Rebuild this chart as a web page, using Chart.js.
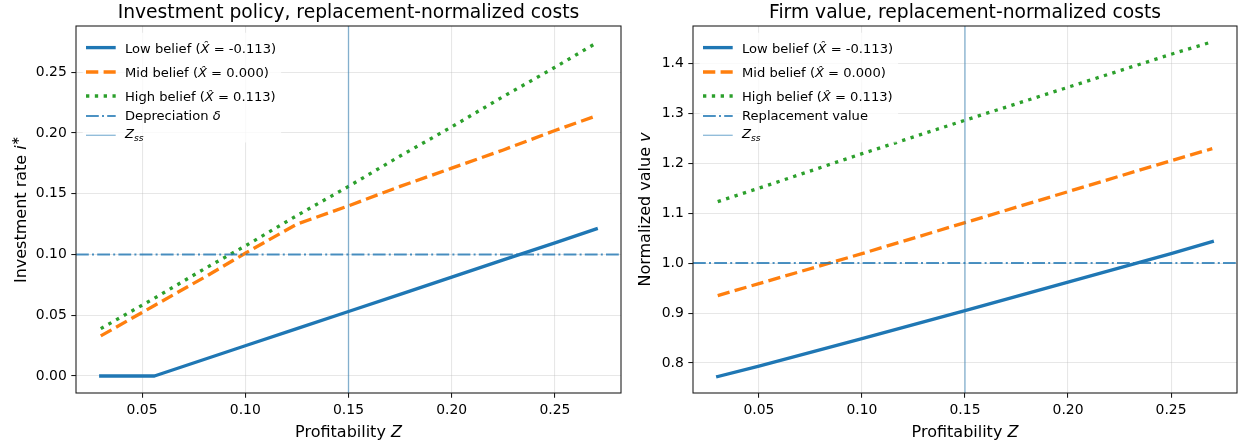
<!DOCTYPE html>
<html><head><meta charset="utf-8">
<script src="https://cdn.jsdelivr.net/npm/chart.js@4"></script>
<style>
html,body{margin:0;padding:0;background:#fff;width:1238px;height:444px;overflow:hidden}
.wrap{position:absolute;top:0;height:444px}
#wa{left:0;width:640px}
#wb{left:630px;width:608px}
canvas{display:block}
</style></head><body>
<div class="wrap" id="wa"><canvas id="ca" width="640" height="444"></canvas></div>
<div class="wrap" id="wb"><canvas id="cb" width="608" height="444"></canvas></div>
<script>
// ---------- data ----------
const Z_INVEST    = [0.030, 0.056, 0.080, 0.100, 0.125, 0.150, 0.175, 0.200, 0.225, 0.250, 0.270];
const INVEST_LOW  = [0.000, 0.000, 0.0136, 0.0249, 0.039, 0.0531, 0.0672, 0.0814, 0.0955, 0.1096, 0.121];
const INVEST_MID  = [0.033, 0.058, 0.081, 0.101, 0.125, 0.140, 0.156, 0.171, 0.186, 0.202, 0.214];
const INVEST_HIGH = [0.039, 0.064, 0.088, 0.107, 0.132, 0.156, 0.181, 0.205, 0.230, 0.254, 0.274];

const Z_VALUE     = [0.030, 0.050, 0.100, 0.150, 0.200, 0.250, 0.270];
const VALUE_LOW   = [0.773, 0.794, 0.849, 0.905, 0.962, 1.019, 1.043];
const VALUE_MID   = [0.935, 0.959, 1.019, 1.081, 1.143, 1.205, 1.229];
const VALUE_HIGH  = [1.123, 1.150, 1.219, 1.286, 1.352, 1.418, 1.443];

const BELIEF_LABELS = ['-0.113', '0.000', '0.113'];
const DEPRECIATION = 0.10;
const REPLACEMENT_VALUE = 1.0;
const Z_SS = 0.15;

const X_TICKS      = [0.05, 0.10, 0.15, 0.20, 0.25];
const INVEST_TICKS = [0.00, 0.05, 0.10, 0.15, 0.20, 0.25];
const VALUE_TICKS  = [0.8, 0.9, 1.0, 1.1, 1.2, 1.3, 1.4];

// ---------- styles ----------
const FONT = '"DejaVu Sans"';
Chart.defaults.font.family = FONT;
const SERIES_STYLE = [
  {name:'Low',  color:'#1f77b4', dash:[],           cap:'square'},
  {name:'Mid',  color:'#ff7f0e', dash:[12.3, 5.3],  cap:'butt'},
  {name:'High', color:'#2ca02c', dash:[3.33, 5.5],  cap:'butt'}
];
const LW = 3.33;
const HLINE_STYLE = {color:'rgba(31,119,180,0.8)', width:2, dash:[12.8,3.2,2,3.2], cap:'butt'};
const VLINE_STYLE = {color:'rgba(31,119,180,0.5)', width:1.33, dash:[], cap:'butt'};

function fontStr(p, size){ return (p.it ? 'italic ' : '') + (size*(p.sc||1)) + 'px ' + FONT; }
function richWidth(ctx, parts, size){
  let w = 0;
  for (const p of parts){ ctx.font = fontStr(p,size); w += ctx.measureText(p.t).width; }
  return w;
}
function drawRich(ctx, parts, x, y, size, align){
  const w = richWidth(ctx, parts, size);
  let cx = align === 'center' ? x - w/2 : x;
  ctx.textBaseline = 'alphabetic';
  ctx.textAlign = 'left';
  for (const p of parts){
    ctx.font = fontStr(p,size);
    ctx.fillText(p.t, cx, y + (p.dy||0)*size);
    cx += ctx.measureText(p.t).width;
  }
  return w;
}
function strokeLine(ctx, st, x0, y0, x1, y1){
  ctx.save();
  ctx.strokeStyle = st.color; ctx.lineWidth = st.width;
  ctx.setLineDash(st.dash || []); ctx.lineCap = st.cap || 'butt';
  ctx.beginPath(); ctx.moveTo(x0,y0); ctx.lineTo(x1,y1); ctx.stroke();
  ctx.restore();
}

const decorPlugin = {
  id:'decor',
  afterDatasetsDraw(chart, args, o){
    const ctx = chart.ctx, a = chart.chartArea;
    const xs = chart.scales.x, ys = chart.scales.y;
    ctx.save();
    ctx.beginPath(); ctx.rect(a.left, a.top, a.right-a.left, a.bottom-a.top); ctx.clip();
    const hy = ys.getPixelForValue(o.hValue);
    strokeLine(ctx, HLINE_STYLE, a.left, hy, a.right, hy);
    const vx = xs.getPixelForValue(o.vValue);
    strokeLine(ctx, VLINE_STYLE, vx, a.top, vx, a.bottom);
    ctx.restore();

    // frame
    ctx.save();
    ctx.strokeStyle = '#1a1a1a'; ctx.lineWidth = 1.07;
    ctx.strokeRect(a.left, a.top, a.right-a.left, a.bottom-a.top);
    ctx.restore();

    // legend
    const fs = 13.1;
    const entries = o.legend;
    const rows = [21.6, 46.0, 70.0, 90.0, 109.3];
    const base = [5.0, 5.0, 5.0, 3.6, 3.1];
    const textX = a.left + 49;
    let maxW = 0;
    for (const e of entries) maxW = Math.max(maxW, richWidth(ctx, e.parts, fs));
    const bx = a.left + 6.7, by = a.top + 6.7;
    const bw = textX + maxW + 5 - bx, bh = a.top + 116.5 - by;
    ctx.save();
    ctx.fillStyle = 'rgba(255,255,255,0.8)';
    ctx.beginPath();
    if (ctx.roundRect) ctx.roundRect(bx, by, bw, bh, 2.7); else ctx.rect(bx,by,bw,bh);
    ctx.fill();
    ctx.restore();
    entries.forEach((e, i) => {
      const y = a.top + rows[i];
      const st = e.style;
      let x0 = a.left + 10, x1 = a.left + 39.7;
      if (st.cap === 'square'){ x0 += st.width/2; x1 -= st.width/2; }
      strokeLine(ctx, st, x0, y, x1, y);
      ctx.fillStyle = '#000';
      drawRich(ctx, e.parts, textX, y + base[i], fs, 'left');
    });
  },
  afterDraw(chart, args, o){
    const ctx = chart.ctx, a = chart.chartArea;
    ctx.save();
    ctx.fillStyle = '#000';
    drawRich(ctx, [{t:o.title}], (a.left+a.right)/2, 18.3, 18.7, 'center');
    drawRich(ctx, o.xlabel, (a.left+a.right)/2, 436.5, 16, 'center');
    ctx.translate(a.left + o.ylabelOffset, (a.top+a.bottom)/2);
    ctx.rotate(-Math.PI/2);
    drawRich(ctx, o.ylabel, 0, 0, 16, 'center');
    ctx.restore();
  }
};

function makeDatasets(zs, series){
  return series.map((vals, i) => ({
    data: zs.map((z, k) => ({x: z, y: vals[k]})),
    borderColor: SERIES_STYLE[i].color,
    borderWidth: LW,
    borderDash: SERIES_STYLE[i].dash,
    borderCapStyle: SERIES_STYLE[i].cap,
    borderJoinStyle: 'round',
    pointRadius: 0,
    tension: 0,
    fill: false,
    order: 3 - i
  }));
}

function axisOpts(ticks, min, max, digits, isX, size){
  return {
    type:'linear', min, max,
    afterBuildTicks: s => { s.ticks = ticks.map(v => ({value: v})); },
    afterFit: s => { if (isX) s.height = size; else s.width = size; },
    ticks:{ callback: v => Number(v).toFixed(digits), color:'#000',
            font:{size:13.9, family:FONT}, padding:4.5, maxRotation:0, autoSkip:false },
    grid:{ color:'rgba(176,176,176,0.3)', lineWidth:1.07, drawTicks:true,
           tickLength:4.7, tickColor:'#1a1a1a', tickWidth:1.07 },
    border:{ display:false }
  };
}

function legendEntries(lastLabel){
  const e = BELIEF_LABELS.map((b, i) => ({
    style: {color: SERIES_STYLE[i].color, width: LW, dash: SERIES_STYLE[i].dash, cap: SERIES_STYLE[i].cap},
    parts: [{t: SERIES_STYLE[i].name + ' belief ('}, {t:'X\u0302', it:1}, {t:' = ' + b + ')'}]
  }));
  e.push({style: HLINE_STYLE, parts: lastLabel});
  e.push({style: VLINE_STYLE, parts: [{t:'Z', it:1}, {t:'ss', it:1, sc:0.7, dy:0.2}]});
  return e;
}

function makeChart(id, cfg){
  new Chart(document.getElementById(id), {
    type:'line',
    data:{ datasets: makeDatasets(cfg.zs, cfg.series) },
    options:{
      responsive:false, animation:false, events:[],
      layout:{ padding:{ left:0, right:cfg.padRight, top:26, bottom:0 } },
      scales:{
        x: axisOpts(X_TICKS, 0.018, 0.282, 2, true, 51),
        y: axisOpts(cfg.yTicks, cfg.yMin, cfg.yMax, cfg.yDigits, false, cfg.yWidth)
      },
      plugins:{
        legend:{display:false}, tooltip:{enabled:false}, title:{display:false},
        decor:{
          title: cfg.title, xlabel: [{t:'Profitability '}, {t:'Z', it:1}],
          ylabel: cfg.ylabel, ylabelOffset: cfg.ylabelOffset,
          hValue: cfg.hValue, vValue: Z_SS, legend: cfg.legend
        }
      }
    },
    plugins:[decorPlugin]
  });
}

makeChart('ca', {
  zs: Z_INVEST, series: [INVEST_LOW, INVEST_MID, INVEST_HIGH],
  yTicks: INVEST_TICKS, yMin: -0.014, yMax: 0.288, yDigits: 2, yWidth: 76, padRight: 19,
  title: 'Investment policy, replacement-normalized costs',
  ylabel: [{t:'Investment rate '}, {t:'i', it:1}, {t:'\u2217', sc:0.7, dy:-0.42}],
  ylabelOffset: -50.5,
  hValue: DEPRECIATION,
  legend: legendEntries([{t:'Depreciation '}, {t:'\u03b4', it:1}])
});

makeChart('cb', {
  zs: Z_VALUE, series: [VALUE_LOW, VALUE_MID, VALUE_HIGH],
  yTicks: VALUE_TICKS, yMin: 0.740, yMax: 1.4746, yDigits: 1, yWidth: 63, padRight: 1,
  title: 'Firm value, replacement-normalized costs',
  ylabel: [{t:'Normalized value '}, {t:'v', it:1}],
  ylabelOffset: -43.5,
  hValue: REPLACEMENT_VALUE,
  legend: legendEntries([{t:'Replacement value'}])
});
</script>
</body></html>
